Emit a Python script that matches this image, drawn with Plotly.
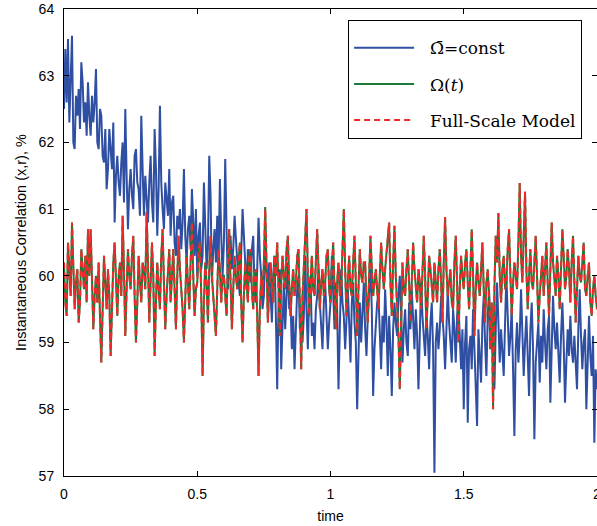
import numpy as np
import plotly.graph_objects as go

time = np.round(np.arange(0, 401) * 0.005, 3)

omega_const = [
    62.5, 63.4, 62.6, 63.55, 62.3, 62.9, 63.6, 62.0, 61.9, 62.7, 62.4, 62.8, 62.2, 63.2, 62.9, 62.3, 62.6, 62.1, 62.9, 62.4,
    62.1, 62.7, 62.3, 62.6, 63.1, 62.0, 61.9, 62.5, 62.4, 61.8, 61.7, 62.2, 61.3, 61.6, 62.2, 61.9, 61.6, 62.3, 60.8, 61.5,
    61.8, 61.4, 61.2, 61.7, 62.0, 61.1, 62.5, 61.5, 60.7, 61.3, 61.6, 61.2, 61.0, 61.8, 61.9, 61.4, 61.3, 60.9, 62.4, 61.6,
    60.9, 61.5, 61.2, 60.8, 61.4, 61.8, 61.1, 60.8, 62.2, 61.6, 60.6, 61.3, 62.55, 61.4, 61.0, 60.7, 61.4, 61.2, 60.9, 61.6,
    60.6, 61.1, 61.2, 60.5, 60.3, 60.9, 60.7, 61.0, 60.4, 60.8, 61.6, 60.6, 60.2, 60.7, 60.9, 60.4, 61.3, 60.8, 60.3, 61.0,
    60.0, 60.6, 60.8, 60.1, 60.3, 61.4, 60.8, 60.1, 60.4, 61.8, 61.2, 59.9, 60.4, 60.7, 60.2, 60.9, 60.2, 61.45, 60.6, 60.0,
    60.5, 61.75, 60.7, 59.8, 60.3, 60.6, 60.1, 60.4, 60.9, 60.5, 60.3, 59.9, 59.7, 60.5, 61.0, 60.6, 60.2, 59.8, 60.4, 60.1,
    59.9, 60.4, 60.6, 59.8, 59.6, 60.1, 60.87, 60.3, 60.0, 59.5, 59.7, 60.4, 60.1, 59.8, 60.2, 59.6, 59.3, 60.0, 60.3, 59.4,
    58.3, 59.6, 60.1, 58.6, 59.4, 59.9, 59.2, 59.6, 60.2, 59.5, 59.6, 58.9, 59.4, 58.6, 59.3, 59.8, 60.0, 59.2, 59.4, 59.0,
    59.4, 60.3, 59.5, 58.9, 59.7, 60.0, 59.1, 59.3, 58.9, 59.5, 59.7, 60.1, 59.6, 59.2, 58.9, 59.6, 59.9, 59.4, 58.9, 59.3,
    59.6, 60.3, 59.7, 59.2, 59.9, 59.5, 58.3, 59.2, 60.1, 59.6, 59.4, 58.9, 59.5, 59.8, 59.3, 58.7, 59.6, 59.9, 59.3, 59.0,
    58.0, 59.1, 59.6, 59.0, 59.4, 59.9, 59.2, 58.8, 59.4, 59.7, 60.1, 59.5, 58.2, 58.9, 59.3, 59.6, 59.7, 59.1, 58.6, 59.4,
    59.0, 59.8, 59.3, 58.5, 59.4, 58.9, 58.2, 59.2, 59.6, 59.3, 59.1, 59.7, 60.0, 59.4, 58.7, 59.2, 59.5, 59.0, 58.8, 59.6,
    59.2, 59.8, 59.3, 58.9, 59.5, 59.1, 58.3, 59.0, 59.9, 59.4, 59.0, 58.8, 59.4, 59.1, 58.6, 59.3, 59.6, 58.9, 57.05, 59.0,
    59.3, 58.9, 59.2, 59.7, 59.4, 59.1, 58.6, 59.2, 59.8, 59.3, 59.0, 58.7, 59.5, 59.2, 58.7, 59.4, 59.6, 59.1, 58.6, 59.2,
    58.0, 59.0, 59.4, 57.8, 58.9, 59.1, 58.6, 59.5, 59.0, 58.4, 57.75, 59.2, 58.8, 58.4, 59.3, 59.7, 59.0, 58.5, 59.4, 59.8,
    58.9, 59.4, 59.0, 58.3, 59.2, 59.9, 59.3, 58.7, 59.2, 58.9, 58.5, 59.3, 60.0, 59.4, 58.8, 59.1, 59.5, 58.6, 57.6, 58.9,
    59.3, 58.7, 59.1, 59.8, 59.2, 58.5, 59.0, 59.4, 58.8, 58.2, 59.2, 59.6, 58.9, 57.55, 58.7, 59.0, 59.3, 58.4, 59.1, 58.7,
    59.5, 59.0, 58.6, 59.2, 59.4, 58.1, 58.8, 59.7, 59.2, 58.9, 59.3, 58.7, 58.4, 59.1, 59.6, 59.0, 58.1, 58.7, 59.2, 58.8,
    59.4, 58.9, 58.7, 59.1, 58.6, 58.3, 59.2, 59.8, 59.1, 58.6, 59.0, 59.2, 58.0, 58.9, 59.4, 58.8, 58.5, 59.1, 57.5, 58.6,
    58.3,
]

omega_t = [
    60.2, 59.6, 59.4, 60.5, 60.1, 59.7, 60.8, 60.0, 59.5, 59.9, 60.1, 59.3, 59.6, 60.4, 60.0, 59.8, 60.3, 59.6, 60.7, 60.0,
    60.7, 59.9, 59.2, 59.7, 60.0, 59.6, 60.2, 59.4, 58.7, 59.5, 60.3, 59.9, 59.5, 60.1, 59.7, 58.8, 59.6, 60.2, 60.5, 59.8,
    59.4, 60.0, 60.2, 59.7, 60.9, 60.1, 59.1, 59.8, 60.4, 60.0, 59.8, 60.3, 60.6, 59.7, 59.0, 59.6, 60.3, 59.9, 59.6, 60.2,
    60.1, 59.8, 60.96, 60.2, 59.3, 59.9, 60.5, 60.0, 58.8, 59.6, 60.2, 59.8, 59.5, 60.3, 60.7, 59.9, 59.2, 59.7, 60.0, 60.4,
    59.6, 60.1, 60.4, 59.8, 59.2, 60.0, 60.6, 60.1, 59.8, 59.5, 59.0, 59.7, 60.3, 59.9, 59.5, 60.2, 60.8, 60.0, 59.4, 59.8,
    59.9, 60.4, 60.5, 59.7, 58.5, 59.6, 60.2, 59.9, 59.3, 60.1, 60.6, 60.0, 59.7, 59.4, 59.1, 59.8, 60.4, 60.1, 59.6, 60.0,
    60.0, 59.7, 59.4, 60.2, 60.7, 59.9, 59.2, 59.8, 60.3, 60.0, 59.8, 60.2, 60.5, 59.6, 59.0, 59.7, 60.2, 59.9, 59.6, 60.3,
    60.4, 59.8, 59.5, 60.0, 60.1, 59.4, 58.5, 59.5, 60.0, 59.7, 60.2, 61.03, 60.1, 59.3, 59.8, 60.2, 59.9, 59.6, 60.3, 60.0,
    60.5, 59.7, 59.1, 59.9, 60.3, 60.0, 59.8, 60.4, 60.6, 59.9, 59.4, 59.8, 60.1, 59.7, 59.9, 60.3, 60.4, 59.6, 58.6, 59.7,
    60.2, 60.6, 61.0, 60.0, 59.4, 59.9, 60.3, 59.8, 59.7, 60.2, 60.7, 60.1, 59.5, 59.9, 60.1, 59.7, 59.9, 60.3, 60.4, 59.8,
    59.6, 60.1, 60.5, 59.8, 59.2, 59.9, 60.2, 59.7, 59.8, 60.4, 61.0, 60.1, 59.4, 59.9, 60.3, 59.8, 59.7, 60.2, 60.6, 59.9,
    59.1, 59.8, 60.4, 60.0, 59.9, 60.2, 60.2, 59.6, 59.3, 60.0, 60.6, 60.1, 59.7, 59.9, 60.1, 59.8, 59.5, 60.0, 60.5, 60.1,
    59.8, 60.1, 60.3, 60.5, 60.8, 59.9, 59.4, 60.2, 60.75, 60.0, 59.6, 59.1, 58.3, 59.4, 60.2, 59.8, 59.7, 60.1, 60.4, 59.9,
    59.3, 59.9, 60.5, 60.1, 59.8, 59.6, 60.1, 59.9, 59.5, 60.2, 60.6, 60.0, 59.2, 59.7, 60.3, 60.1, 59.9, 59.6, 60.2, 59.8,
    59.6, 60.1, 60.4, 59.9, 59.3, 60.2, 60.88, 60.1, 59.7, 59.9, 60.1, 59.6, 59.5, 60.2, 60.6, 59.9, 59.0, 59.8, 60.3, 60.0,
    59.8, 60.2, 60.4, 59.9, 59.5, 60.1, 60.7, 60.0, 59.1, 59.8, 60.2, 59.9, 59.7, 60.1, 60.5, 59.8, 59.3, 59.9, 60.1, 59.7,
    58.9, 59.6, 58.0, 59.8, 60.6, 60.2, 60.94, 60.0, 59.6, 60.1, 60.3, 59.8, 59.9, 60.4, 60.7, 60.0, 59.4, 59.9, 60.2, 60.0,
    59.8, 60.5, 61.39, 60.3, 59.9, 60.6, 61.26, 60.1, 59.5, 60.0, 60.4, 59.9, 59.8, 60.2, 60.6, 60.0, 59.3, 59.7, 60.1, 60.3,
    59.7, 60.2, 60.5, 59.9, 59.4, 60.1, 60.8, 60.2, 59.9, 59.7, 60.3, 60.0, 59.5, 60.1, 60.7, 60.3, 59.8, 60.0, 60.4, 60.1,
    59.6, 60.2, 60.6, 59.9, 59.3, 59.8, 60.3, 60.0, 59.9, 60.2, 60.5, 59.8, 59.7, 60.0, 60.2, 59.6, 59.4, 59.8, 60.0, 59.7,
    59.5,
]

full_scale = [
    60.2, 59.6, 59.4, 60.5, 60.1, 59.7, 60.8, 60.0, 59.5, 59.9, 60.1, 59.3, 59.6, 60.4, 60.0, 59.8, 60.3, 59.6, 60.7, 60.0,
    60.7, 59.9, 59.2, 59.7, 60.0, 59.6, 60.2, 59.4, 58.7, 59.5, 60.3, 59.9, 59.5, 60.1, 59.7, 58.8, 59.6, 60.2, 60.5, 59.8,
    59.4, 60.0, 60.2, 59.7, 60.9, 60.1, 59.1, 59.8, 60.4, 60.0, 59.8, 60.3, 60.6, 59.7, 59.0, 59.6, 60.3, 59.9, 59.6, 60.2,
    60.1, 59.8, 60.95, 60.2, 59.3, 59.9, 60.5, 60.0, 58.8, 59.6, 60.2, 59.8, 59.5, 60.3, 60.7, 59.9, 59.2, 59.7, 60.0, 60.4,
    59.6, 60.1, 60.4, 59.8, 59.2, 60.0, 60.6, 60.1, 59.8, 59.5, 59.0, 59.7, 60.3, 59.9, 59.5, 60.2, 60.8, 60.0, 59.4, 59.8,
    59.9, 60.4, 60.5, 59.7, 58.5, 59.6, 60.2, 59.9, 59.3, 60.1, 60.6, 60.0, 59.7, 59.4, 59.1, 59.8, 60.4, 60.1, 59.6, 60.0,
    60.0, 59.7, 59.4, 60.2, 60.7, 59.9, 59.2, 59.8, 60.3, 60.0, 59.8, 60.2, 60.5, 59.6, 59.0, 59.7, 60.2, 59.9, 59.6, 60.3,
    60.4, 59.8, 59.5, 60.0, 60.1, 59.4, 58.5, 59.5, 60.0, 59.7, 60.2, 61.0, 60.1, 59.3, 59.8, 60.2, 59.9, 59.6, 60.3, 60.0,
    60.5, 59.7, 59.1, 59.9, 60.3, 60.0, 59.8, 60.4, 60.6, 59.9, 59.4, 59.8, 60.1, 59.7, 59.9, 60.3, 60.4, 59.6, 58.6, 59.7,
    60.2, 60.6, 61.0, 60.0, 59.4, 59.9, 60.3, 59.8, 59.7, 60.2, 60.7, 60.1, 59.5, 59.9, 60.1, 59.7, 59.9, 60.3, 60.4, 59.8,
    59.6, 60.1, 60.5, 59.8, 59.2, 59.9, 60.2, 59.7, 59.8, 60.4, 61.0, 60.1, 59.4, 59.9, 60.3, 59.8, 59.7, 60.2, 60.6, 59.9,
    59.1, 59.8, 60.4, 60.0, 59.9, 60.2, 60.2, 59.6, 59.3, 60.0, 60.6, 60.1, 59.7, 59.9, 60.1, 59.8, 59.5, 60.0, 60.5, 60.1,
    59.8, 60.1, 60.3, 60.5, 60.8, 59.9, 59.4, 60.2, 60.75, 60.0, 59.6, 59.1, 58.3, 59.4, 60.2, 59.8, 59.7, 60.1, 60.4, 59.9,
    59.3, 59.9, 60.5, 60.1, 59.8, 59.6, 60.1, 59.9, 59.5, 60.2, 60.6, 60.0, 59.2, 59.7, 60.3, 60.1, 59.9, 59.6, 60.2, 59.8,
    59.6, 60.1, 60.4, 59.9, 59.3, 60.2, 60.88, 60.1, 59.7, 59.9, 60.1, 59.6, 59.5, 60.2, 60.6, 59.9, 59.0, 59.8, 60.3, 60.0,
    59.8, 60.2, 60.4, 59.9, 59.5, 60.1, 60.7, 60.0, 59.1, 59.8, 60.2, 59.9, 59.7, 60.1, 60.5, 59.8, 59.3, 59.9, 60.1, 59.7,
    58.9, 59.6, 58.0, 59.8, 60.6, 60.2, 60.94, 60.0, 59.6, 60.1, 60.3, 59.8, 59.9, 60.4, 60.7, 60.0, 59.4, 59.9, 60.2, 60.0,
    59.8, 60.5, 61.39, 60.3, 59.9, 60.6, 61.26, 60.1, 59.5, 60.0, 60.4, 59.9, 59.8, 60.2, 60.6, 60.0, 59.3, 59.7, 60.1, 60.3,
    59.7, 60.2, 60.5, 59.9, 59.4, 60.1, 60.8, 60.2, 59.9, 59.7, 60.3, 60.0, 59.5, 60.1, 60.7, 60.3, 59.8, 60.0, 60.4, 60.1,
    59.6, 60.2, 60.6, 59.9, 59.3, 59.8, 60.3, 60.0, 59.9, 60.2, 60.5, 59.8, 59.7, 60.0, 60.2, 59.6, 59.4, 59.8, 60.0, 59.7,
    59.5,
]

x_ticks = [0, 0.5, 1, 1.5, 2]
x_tick_labels = ["0", "0.5", "1", "1.5", "2"]
y_ticks = [57, 58, 59, 60, 61, 62, 63, 64]

pad = "\u00a0\u00a0"

fig = go.Figure()
fig.add_trace(go.Scatter(x=time, y=omega_const, mode="lines",
                         name=pad + "Ω\u0304=const", legendgroup="a",
                         line=dict(color="#2F4FA2", width=2)))
fig.add_trace(go.Scatter(x=time, y=omega_t, mode="lines",
                         name=pad + "Ω(<i>t</i>)", legendgroup="b",
                         line=dict(color="#1A7A3A", width=2)))
fig.add_trace(go.Scatter(x=time, y=full_scale, mode="lines",
                         name=pad + "Full-Scale Model", legendgroup="c",
                         line=dict(color="#F02A2A", width=2, dash="6px,4px")))

tick_font = dict(family="Liberation Sans, Arial", size=14, color="black")
axis_common = dict(showgrid=False, zeroline=False, showline=True, linecolor="black",
                   linewidth=1, mirror="ticks", ticks="inside", ticklen=5,
                   tickcolor="black", tickfont=tick_font, automargin=False,
                   ticklabeloverflow="allow")

fig.update_layout(
    width=597, height=526,
    margin=dict(l=64, r=0, t=9, b=50),
    plot_bgcolor="white", paper_bgcolor="white",
    xaxis=dict(range=[0, 2], tickvals=x_ticks, ticktext=x_tick_labels, ticklabelstandoff=5,
               title=dict(text="time", font=tick_font, standoff=10),
               **axis_common),
    yaxis=dict(range=[57, 64], tickvals=y_ticks, ticklabelstandoff=6,
               title=dict(text="Instantaneous Correlation (x,r), %",
                          font=dict(family="Liberation Sans, Arial", size=14.5, color="black"), standoff=8),
               **axis_common),
    legend=dict(x=0.533, y=0.976, xanchor="left", yanchor="top",
                bgcolor="white", bordercolor="black", borderwidth=1,
                font=dict(family="DejaVu Serif, Liberation Serif", size=17, color="black"),
                title=dict(text=" ", font=dict(size=7)),
                tracegroupgap=11, itemwidth=60),
    showlegend=True,
)

fig.write_html("out.html", config={"displayModeBar": False},
               post_script="document.body.style.margin='0';")
